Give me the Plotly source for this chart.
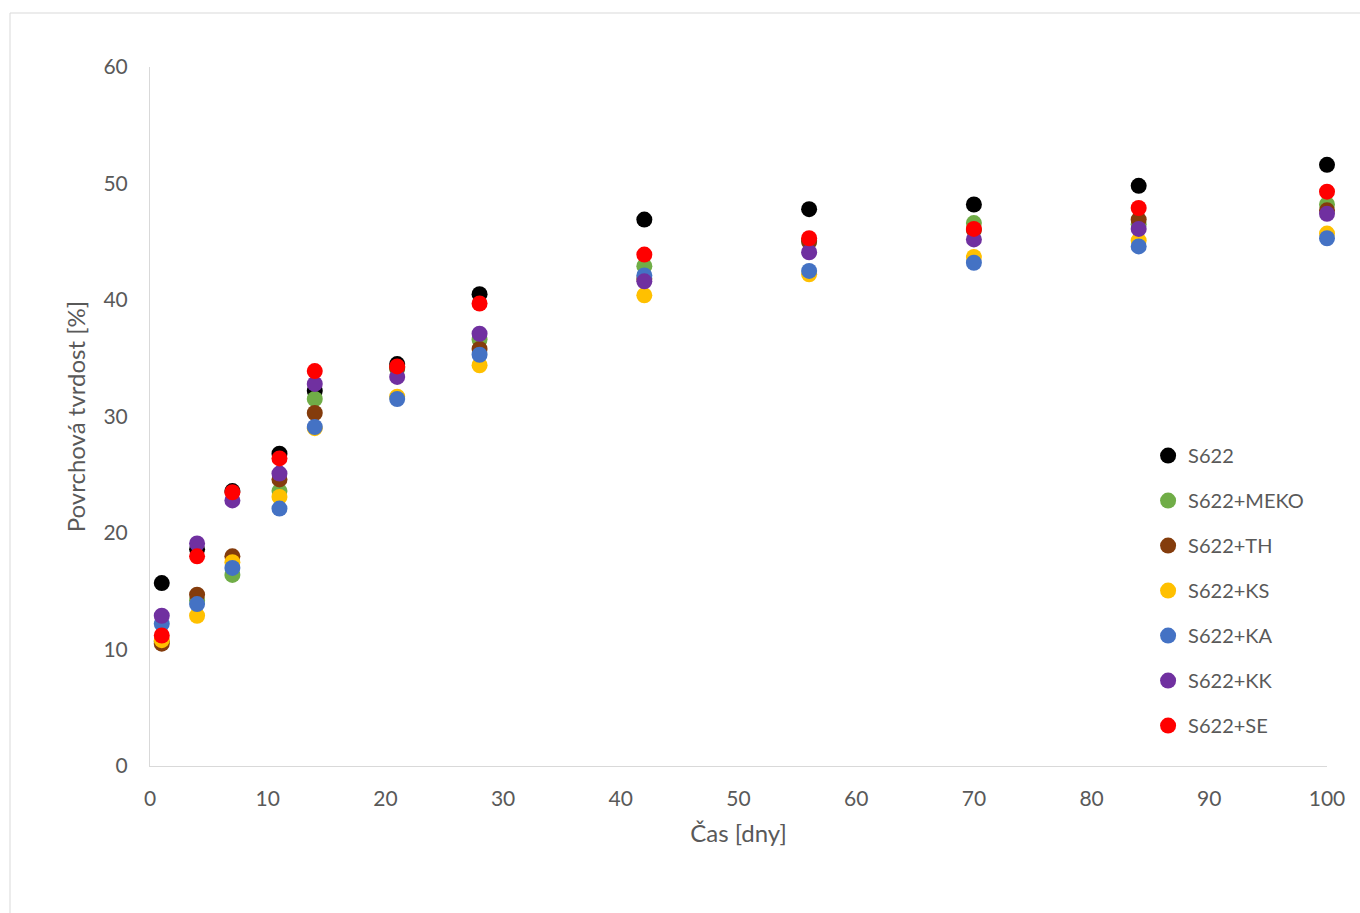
import plotly.graph_objects as go

days = [1, 4, 7, 11, 14, 21, 28, 42, 56, 70, 84, 100]

s622      = [15.7, 18.6, 23.6, 26.8, 32.2, 34.5, 40.5, 46.9, 47.8, 48.2, 49.8, 51.6]
s622_meko = [10.7, 14.2, 16.4, 23.6, 31.5, 34.1, 36.6, 42.9, 45.1, 46.6, 46.5, 48.2]
s622_th   = [10.5, 14.7, 18.0, 24.6, 30.3, 34.2, 35.8, 41.8, 45.0, 46.0, 46.9, 47.7]
s622_ks   = [10.8, 12.9, 17.5, 23.1, 29.0, 31.7, 34.4, 40.4, 42.2, 43.7, 45.1, 45.7]
s622_ka   = [12.2, 13.9, 17.0, 22.1, 29.1, 31.5, 35.3, 42.1, 42.5, 43.2, 44.6, 45.3]
s622_kk   = [12.9, 19.1, 22.8, 25.1, 32.8, 33.4, 37.1, 41.6, 44.1, 45.2, 46.1, 47.4]
s622_se   = [11.2, 18.0, 23.5, 26.4, 33.9, 34.3, 39.7, 43.9, 45.3, 46.1, 47.9, 49.3]

names = ["S622", "S622+MEKO", "S622+TH", "S622+KS", "S622+KA", "S622+KK", "S622+SE"]
series = [s622, s622_meko, s622_th, s622_ks, s622_ka, s622_kk, s622_se]
colors = ["#000000", "#70AD47", "#843C0C", "#FFC000", "#4472C4", "#7030A0", "#FF0000"]

FONT = "Lato, 'Open Sans', sans-serif"
GRAY = "#595959"

fig = go.Figure()
for n, s, c in zip(names, series, colors):
    fig.add_trace(go.Scatter(
        x=days, y=s, mode="markers", name=n, legendgroup=n,
        marker=dict(size=16, color=c), cliponaxis=False,
    ))

fig.update_layout(
    width=1360, height=913,
    margin=dict(l=150, r=33, t=67, b=147),
    paper_bgcolor="white", plot_bgcolor="white",
    font=dict(family=FONT, size=20, color=GRAY),
    showlegend=True,
    legend=dict(
        x=0.848, y=0.472, xanchor="left", yanchor="top",
        font=dict(family=FONT, size=20, color=GRAY),
        tracegroupgap=16, itemwidth=30, bgcolor="rgba(0,0,0,0)",
    ),
    xaxis=dict(
        range=[0, 100], dtick=10, tick0=0,
        showgrid=False, zeroline=False,
        showline=True, linecolor="#D9D9D9", linewidth=1,
        ticks="", tickfont=dict(family=FONT, size=21, color=GRAY),
        ticklabelstandoff=14,
        title=dict(text="Čas [dny]", font=dict(family=FONT, size=24, color=GRAY), standoff=15),
    ),
    yaxis=dict(
        range=[0, 60], dtick=10, tick0=0,
        showgrid=False, zeroline=False,
        showline=True, linecolor="#D9D9D9", linewidth=1,
        ticks="", tickfont=dict(family=FONT, size=21, color=GRAY),
        ticklabelstandoff=17,
        title=dict(text="Povrchová tvrdost [%]", font=dict(family=FONT, size=24, color=GRAY), standoff=11),
    ),
)

fig.add_shape(
    type="rect", xref="paper", yref="paper",
    x0=(10 - 150) / 1177, x1=1.2, y0=-0.4, y1=(766 - 13) / 699,
    line=dict(color="#D9D9D9", width=1), fillcolor="rgba(0,0,0,0)", layer="below",
)

fig.write_html("out.html")
